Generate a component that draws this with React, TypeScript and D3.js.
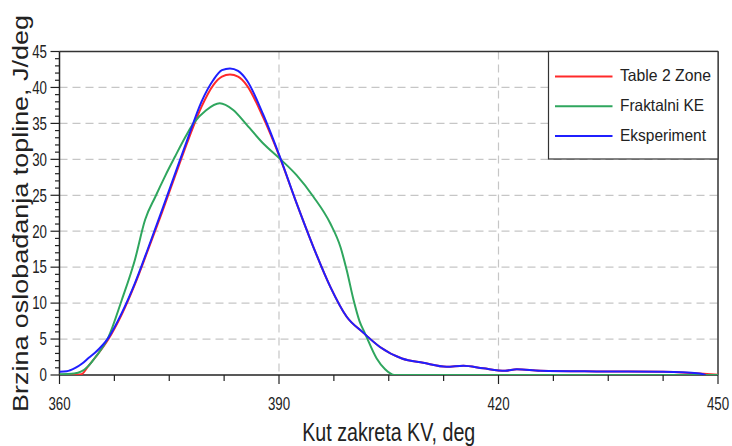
import React from "react";
import * as d3 from "d3";

// ---- data ----
const table2Zone: [number, number][] = [
  [360, 0], [361, 0], [362, 0], [363, 0.1], [363.9, 1.2], [364.85, 2.4], [366.7, 5.0],
  [368.5, 8.4], [370.3, 12.6], [372.1, 17.4], [374.0, 22.6], [375.8, 27.7], [377.6, 32.7],
  [379.4, 37.3], [381.0, 40.3], [382.2, 41.5], [383.3, 41.8], [384.4, 41.5], [385.6, 40.3],
  [387.85, 35.8], [390.1, 30.3], [392.4, 23.9], [394.7, 17.8], [397.0, 12.3], [399.25, 8.1],
  [401.5, 5.9], [403.8, 3.9], [406.8, 2.3], [409.7, 1.7], [412.9, 1.15], [415.2, 1.3],
  [417.9, 0.93], [420.9, 0.6], [422.5, 0.8], [425.7, 0.6], [433.4, 0.5], [442.5, 0.45],
  [447.5, 0.2], [450, 0.05],
];

const fraktalniKE: [number, number][] = [
  [360, 0.1], [362, 0.2], [363, 0.5], [363.9, 1.2], [364.85, 2.4], [366.7, 5.3],
  [368.5, 10.4], [370.3, 16.0], [371.7, 21.6], [373.1, 24.8], [374.4, 27.6], [375.8, 30.4],
  [377.2, 33.1], [378.3, 35.0], [380.0, 36.8], [381.9, 37.8], [383.7, 36.9], [385.6, 34.8],
  [387.85, 32.2], [390.1, 30.1], [392.4, 27.8], [394.7, 24.8], [397.0, 21.1], [398.4, 17.8],
  [399.25, 14.6], [400.2, 10.4], [401.0, 7.5], [401.75, 5.8], [403.35, 2.3], [404.5, 0.8],
  [405.8, 0], [420, 0], [450, 0],
];

const eksperiment: [number, number][] = [
  [360, 0.46], [361, 0.52], [362.1, 0.95], [363.1, 1.6], [364.0, 2.4], [364.85, 3.1], [366.7, 5.2],
  [368.5, 8.6], [370.3, 12.75], [372.1, 17.6], [374.0, 22.9], [375.8, 28.0], [377.6, 33.1],
  [379.4, 38.0], [381.0, 41.0], [382.2, 42.4], [383.3, 42.65], [384.4, 42.3], [385.6, 41.0],
  [387.85, 36.2], [390.1, 30.4], [392.4, 23.9], [394.7, 17.8], [397.0, 12.3], [399.25, 8.1],
  [401.5, 5.9], [403.8, 3.9], [406.8, 2.3], [409.7, 1.7], [412.9, 1.15], [415.2, 1.3],
  [417.9, 0.93], [420.9, 0.6], [422.5, 0.8], [425.7, 0.6], [433.4, 0.5], [442.5, 0.45],
  [447.5, 0.2], [448.3, 0],
];

const seriesNames = ["Table 2 Zone", "Fraktalni KE", "Eksperiment"];
const seriesColors = ["#ff2a2a", "#2fa65e", "#1f1fff"];
const xTickLabels = [360, 390, 420, 450];
const yTickLabels = [0, 5, 10, 15, 20, 25, 30, 35, 40, 45];
const xTitle = "Kut zakreta KV, deg";
const yTitle = "Brzina oslobađanja topline, J/deg";

const W = 732;
const H = 446;
const left = 59.5, right = 718, top = 51.5, bottom = 375;
const FONT = "'Liberation Sans', Arial, Helvetica, sans-serif";

export default function App() {
  const x = d3.scaleLinear().domain([360, 450]).range([left, right]);
  const y = d3.scaleLinear().domain([0, 45]).range([bottom, top]);
  const line = d3
    .line<[number, number]>()
    .x((d) => x(d[0]))
    .y((d) => y(d[1]))
    .curve(d3.curveMonotoneX);

  const data = [table2Zone, fraktalniKE, eksperiment];
  const xMinor = d3.range(360, 450.01, 7.5);
  const yMinor = d3.range(0, 45.01, 1);
  const gridY = yTickLabels.filter((v) => v > 0 && v < 45);
  const gridX = xTickLabels.filter((v) => v > 360 && v < 450);

  const legendX = 548.5, legendW = right - 548.5, legendH = 107.5;
  const legendRows = [76.4, 106.3, 136];
  const legendTextLen = [91, 84, 86];

  return (
    <svg
      width={W}
      height={H}
      style={{ position: "absolute", left: 0, top: 0, background: "#fff" }}
      fontFamily={FONT}
    >
      <defs>
        <clipPath id="plotClip">
          <rect x={left} y={top - 2} width={right - left} height={bottom - top + 2} />
        </clipPath>
      </defs>
      {/* gridlines */}
      {gridY.map((v) => (
        <line key={"gy" + v} x1={left} x2={right} y1={y(v)} y2={y(v)}
          stroke="#c6c6c6" strokeWidth={1.2} strokeDasharray="8,5" />
      ))}
      {gridX.map((v) => (
        <line key={"gx" + v} x1={x(v)} x2={x(v)} y1={top} y2={bottom}
          stroke="#c6c6c6" strokeWidth={1.2} strokeDasharray="8,5" />
      ))}

      {/* frame top/right */}
      <line x1={left} x2={right} y1={top} y2={top} stroke="#333" strokeWidth={1.5} />
      <line x1={right} x2={right} y1={top} y2={bottom} stroke="#333" strokeWidth={1.5} />

      {/* y ticks */}
      {yMinor.map((v) => {
        const major = v % 5 === 0;
        return (
          <line key={"yt" + v} x1={left - (major ? 9 : 4.5)} x2={left} y1={y(v)} y2={y(v)}
            stroke="#222" strokeWidth={1.2} />
        );
      })}
      {/* x ticks */}
      {xMinor.map((v) => {
        const major = v % 30 === 0;
        return (
          <line key={"xt" + v} x1={x(v)} x2={x(v)} y1={bottom} y2={bottom + (major ? 9 : 6)}
            stroke="#222" strokeWidth={1.2} />
        );
      })}

      {/* axes */}
      <line x1={left} x2={right} y1={bottom} y2={bottom} stroke="#222" strokeWidth={1.5} />
      <line x1={left} x2={left} y1={top} y2={bottom} stroke="#222" strokeWidth={1.5} />

      {/* series */}
      <g clipPath="url(#plotClip)">
        {data.map((d, i) => (
          <path key={seriesNames[i]} d={line(d) || ""} fill="none"
            stroke={seriesColors[i]} strokeWidth={2} strokeLinejoin="round" />
        ))}
      </g>

      {/* y tick labels */}
      {yTickLabels.map((v) => (
        <text key={"yl" + v} transform={`translate(47,${y(v)}) scale(0.76,1)`}
          textAnchor="end" dy="0.36em" fontSize={17.5} fill="#222">{v}</text>
      ))}
      {/* x tick labels */}
      {xTickLabels.map((v) => (
        <text key={"xl" + v} transform={`translate(${x(v)},410) scale(0.74,1)`}
          textAnchor="middle" fontSize={18} fill="#222">{v}</text>
      ))}

      {/* axis titles */}
      <text x={(left + right) / 2} y={441} textAnchor="middle" fontSize={25}
        textLength={173} lengthAdjust="spacingAndGlyphs" fill="#222">{xTitle}</text>
      <text transform={`translate(27.5,${(15 + 412) / 2}) rotate(-90)`} textAnchor="middle"
        fontSize={21.5} textLength={397} lengthAdjust="spacingAndGlyphs" fill="#222">{yTitle}</text>

      {/* legend */}
      <rect x={legendX} y={top} width={legendW} height={legendH} fill="#fff"
        stroke="#333" strokeWidth={1.2} />
      {seriesNames.map((n, i) => (
        <g key={"lg" + n}>
          <line x1={555} x2={612.5} y1={legendRows[i]} y2={legendRows[i]}
            stroke={seriesColors[i]} strokeWidth={2} />
          <text x={620} y={legendRows[i] + 5} fontSize={16.5} fill="#222"
            textLength={legendTextLen[i]} lengthAdjust="spacingAndGlyphs">{n}</text>
        </g>
      ))}
    </svg>
  );
}
